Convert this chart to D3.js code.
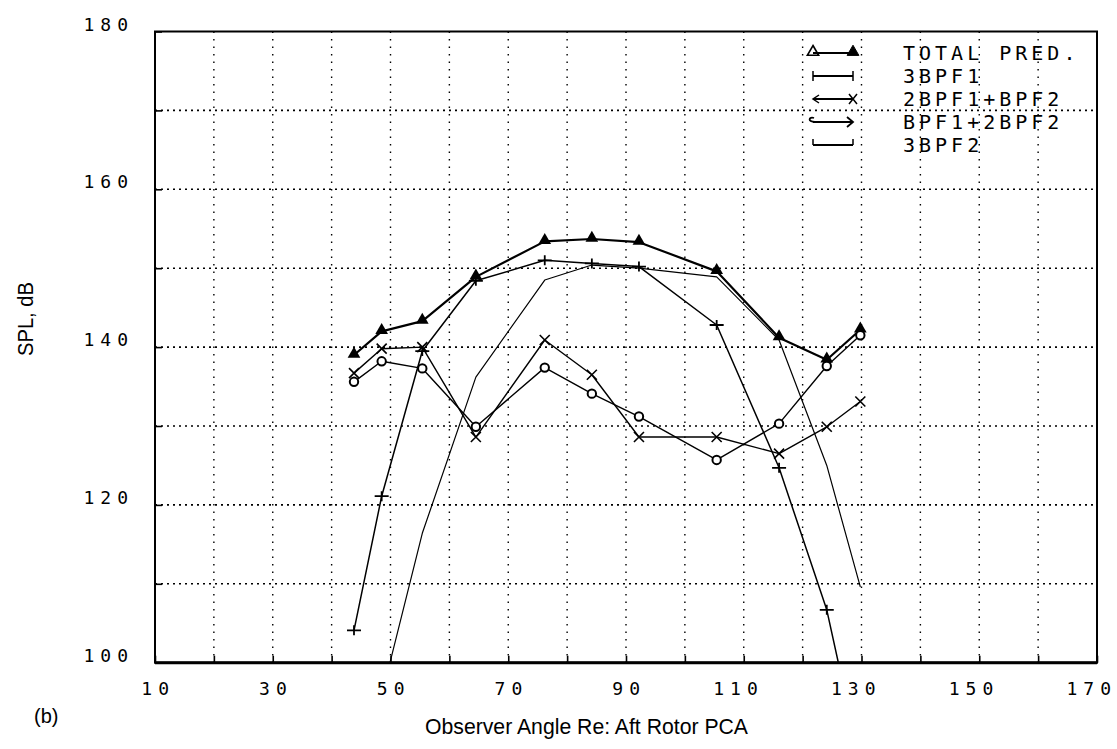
<!DOCTYPE html>
<html>
<head>
<meta charset="utf-8">
<script src="https://cdn.jsdelivr.net/npm/d3@7"></script>
<style>
  body { margin: 0; background: #fff; }
  svg { display: block; }
</style>
</head>
<body>
<svg id="chart" width="1117" height="749"></svg>
<script>
// Observer angles (deg) shared by all tone predictions
const angles = [43.8, 48.5, 55.4, 64.5, 76.2, 84.2, 92.2, 105.4, 116.0, 124.1, 129.8];

// SPL (dB) per tone; null where the curve has no point
const totalPred = [139.0, 142.0, 143.3, 148.9, 153.4, 153.7, 153.3, 149.6, 141.2, 138.4, 142.2];
const bpf3x1    = [104.1, 121.1, 139.5, 148.4, 151.0, 150.6, 150.2, 142.8, 124.7, 106.7, 87.3];
const bpf2x1p2  = [136.7, 139.8, 140.0, 128.6, 140.9, 136.5, 128.6, 128.6, 126.5, 129.9, 133.1];
const bpf1p2x2  = [135.6, 138.2, 137.3, 129.9, 137.4, 134.1, 131.2, 125.7, 130.3, 137.6, 141.5];
const bpf3x2    = [null, 95.8, 116.4, 136.2, 148.5, 150.4, 150.0, 148.9, 140.9, 125.0, 109.6];

const seriesNames = ["TOTAL PRED.", "3BPF1", "2BPF1+BPF2", "BPF1+2BPF2", "3BPF2"];
const xTickValues = [10, 30, 50, 70, 90, 110, 130, 150, 170];
const yTickValues = [100, 120, 140, 160, 180];
const xTitle = "Observer Angle Re:  Aft Rotor PCA";
const yTitle = "SPL, dB";
const panelTag = "(b)";

const svg = d3.select("#chart");
const plotL = 155, plotR = 1097, plotT = 31.5, plotB = 662.7;

const x = d3.scaleLinear().domain([10, 170]).range([plotL, plotR]);
const y = d3.scaleLinear().domain([100, 180]).range([plotB, plotT]);

svg.append("defs").append("clipPath").attr("id", "plot-clip")
  .append("rect").attr("x", plotL).attr("y", plotT)
  .attr("width", plotR - plotL).attr("height", plotB - plotT);

// dotted grid every 10 units
const grid = svg.append("g");
grid.selectAll("line.v").data(d3.range(20, 170, 10)).join("line")
  .attr("class", "v")
  .attr("x1", d => x(d)).attr("x2", d => x(d))
  .attr("y1", plotT).attr("y2", plotB)
  .attr("stroke", "#000").attr("stroke-width", 1.4)
  .attr("stroke-dasharray", "1.5,6");
grid.selectAll("line.h").data(d3.range(110, 180, 10)).join("line")
  .attr("class", "h")
  .attr("x1", plotL).attr("x2", plotR)
  .attr("y1", d => y(d)).attr("y2", d => y(d))
  .attr("stroke", "#000").attr("stroke-width", 1.6)
  .attr("stroke-dasharray", "2,4");

// frame
svg.append("rect").attr("x", plotL).attr("y", plotT)
  .attr("width", plotR - plotL).attr("height", plotB - plotT)
  .attr("fill", "none").attr("stroke", "#000").attr("stroke-width", 2);
svg.append("line").attr("x1", plotL).attr("x2", plotR)
  .attr("y1", plotB).attr("y2", plotB)
  .attr("stroke", "#000").attr("stroke-width", 3);

// inward ticks
const xAxis = d3.axisTop(x).tickValues(d3.range(10, 171, 10)).tickSize(7).tickFormat("");
const gx = svg.append("g").attr("transform", `translate(0,${plotB})`).call(xAxis);
gx.select(".domain").remove();
gx.selectAll("line").attr("stroke-width", 1.6);
const yAxis = d3.axisRight(y).tickValues(d3.range(100, 181, 10)).tickSize(7).tickFormat("");
const gy = svg.append("g").attr("transform", `translate(${plotL},0)`).call(yAxis);
gy.select(".domain").remove();
gy.selectAll("line").attr("stroke-width", 1.6);

// tick labels (plotter style: last digits sit on the tick, leading digit hangs left)
const tickFont = "'DejaVu Sans Mono', monospace";
const ls = 6;
svg.append("g").selectAll("text").data(xTickValues).join("text")
  .attr("x", d => x(d) + 14 + ls).attr("y", 695)
  .attr("text-anchor", "end")
  .style("font-family", tickFont).style("font-size", "18px")
  .style("letter-spacing", ls + "px")
  .text(d => d);
svg.append("g").selectAll("text").data(yTickValues).join("text")
  .attr("x", 128 + ls).attr("y", d => y(d) - 1)
  .attr("text-anchor", "end")
  .style("font-family", tickFont).style("font-size", "18px")
  .style("letter-spacing", ls + "px")
  .text(d => d);

// titles
const sansNarrow = "'Liberation Sans Narrow', 'Liberation Sans', Arial, sans-serif";
svg.append("text").attr("x", 425).attr("y", 734)
  .attr("textLength", 323).attr("lengthAdjust", "spacingAndGlyphs")
  .style("font-family", sansNarrow).style("font-size", "22px")
  .text(xTitle);
svg.append("text").attr("transform", "translate(33,356) rotate(-90)")
  .attr("textLength", 74).attr("lengthAdjust", "spacingAndGlyphs")
  .style("font-family", sansNarrow).style("font-size", "22px")
  .text(yTitle);
svg.append("text").attr("x", 34).attr("y", 723)
  .style("font-family", sansNarrow).style("font-size", "20px")
  .text(panelTag);

// curves
const seriesValues = [totalPred, bpf3x1, bpf2x1p2, bpf1p2x2, bpf3x2];
const widths = [2.2, 1.5, 1.4, 1.4, 1.2];
const markerKinds = ["tri", "plus", "cross", "ring", "none"];

const line = d3.line()
  .defined(d => d[1] != null)
  .x(d => x(d[0])).y(d => y(d[1]));

const plot = svg.append("g").attr("clip-path", "url(#plot-clip)");
seriesValues.forEach((vals, i) => {
  const pts = angles.map((a, k) => [a, vals[k]]);
  plot.append("path").datum(pts)
    .attr("d", line).attr("fill", "none")
    .attr("stroke", "#000").attr("stroke-width", widths[i])
    .attr("stroke-linejoin", "round");
  const shown = pts.filter(p => p[1] != null && p[1] >= 100);
  const g = plot.append("g");
  const kind = markerKinds[i];
  if (kind === "tri") {
    g.selectAll("path").data(shown).join("path")
      .attr("transform", d => `translate(${x(d[0])},${y(d[1]) - 1})`)
      .attr("d", d3.symbol(d3.symbolTriangle, 70))
      .attr("fill", "#000");
  } else if (kind === "plus") {
    g.selectAll("path").data(shown).join("path")
      .attr("transform", d => `translate(${x(d[0])},${y(d[1])})`)
      .attr("d", "M-7,0H7M0,-5V5")
      .attr("stroke", "#000").attr("stroke-width", 1.8);
  } else if (kind === "cross") {
    g.selectAll("path").data(shown).join("path")
      .attr("transform", d => `translate(${x(d[0])},${y(d[1])})`)
      .attr("d", "M-5,-5L5,5M-5,5L5,-5")
      .attr("stroke", "#000").attr("stroke-width", 1.6);
  } else if (kind === "ring") {
    g.selectAll("circle").data(shown).join("circle")
      .attr("cx", d => x(d[0])).attr("cy", d => y(d[1]))
      .attr("r", 4.2).attr("fill", "#fff")
      .attr("stroke", "#000").attr("stroke-width", 2);
  }
});

// legend
const legendFont = "'DejaVu Sans Mono', monospace";
const lg = svg.append("g");
const symL = 813, symR = 853, textX = 903;
seriesNames.forEach((name, i) => {
  const yy = 53 + i * 23;
  const kind = markerKinds[i];
  lg.append("text").attr("x", textX).attr("y", yy + 7)
    .style("font-family", legendFont).style("font-size", "20px")
    .style("letter-spacing", "4px")
    .text(name);
  const row = lg.append("g").attr("stroke", "#000").attr("fill", "none");
  row.append("line").attr("x1", symL).attr("x2", symR)
    .attr("y1", yy).attr("y2", yy).attr("stroke-width", 1.8);
  if (kind === "tri") {
    row.append("path").attr("transform", `translate(${symL},${yy - 1})`)
      .attr("d", d3.symbol(d3.symbolTriangle, 55)).attr("stroke-width", 1.6);
    row.append("path").attr("transform", `translate(${symR},${yy - 1})`)
      .attr("d", d3.symbol(d3.symbolTriangle, 60)).attr("fill", "#000");
  } else if (kind === "plus") {
    row.append("path").attr("d", `M${symL},${yy - 5}V${yy + 5}M${symR},${yy - 5}V${yy + 5}`)
      .attr("stroke-width", 1.5);
  } else if (kind === "cross") {
    row.append("path").attr("d", `M${symL + 6},${yy - 4}L${symL},${yy}L${symL + 6},${yy + 4}`)
      .attr("stroke-width", 1.5);
    row.append("path").attr("d", `M${symR - 4},${yy - 5}L${symR + 4},${yy + 5}M${symR - 4},${yy + 5}L${symR + 4},${yy - 5}`)
      .attr("stroke-width", 1.5);
  } else if (kind === "ring") {
    row.append("path").attr("d", `M${symL + 2},${yy}C${symL - 6},${yy} ${symL - 4},${yy - 6} ${symL + 1},${yy - 4}`)
      .attr("stroke-width", 1.8);
    row.append("path").attr("d", `M${symR - 6},${yy - 5}L${symR},${yy}L${symR - 6},${yy + 5}`)
      .attr("stroke-width", 1.8);
  } else {
    row.append("path").attr("d", `M${symL},${yy - 6}V${yy}M${symR},${yy - 6}V${yy}`)
      .attr("stroke-width", 1.5);
  }
});
</script>
</body>
</html>
